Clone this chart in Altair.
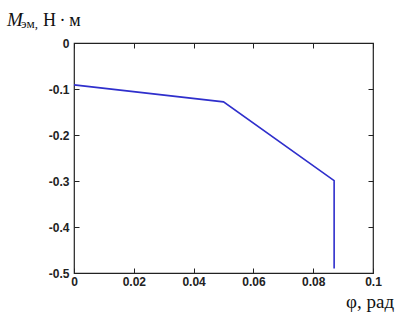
import altair as alt
import pandas as pd

phi = [0.0, 0.05, 0.087, 0.087]
moment = [-0.091, -0.128, -0.299, -0.49]
x_ticks = [0, 0.02, 0.04, 0.06, 0.08, 0.1]
y_ticks = [0, -0.1, -0.2, -0.3, -0.4, -0.5]

df = pd.DataFrame({"phi": phi, "m": moment, "order": list(range(len(phi)))})

W, H = 299, 230
tick_font = "Liberation Sans"
serif = "Liberation Serif"

xscale = alt.Scale(domain=[0, 0.1], nice=False, zero=False)
yscale = alt.Scale(domain=[-0.5, 0], nice=False, zero=False)

def xaxis(orient, labels):
    return alt.Axis(orient=orient, values=x_ticks, labels=labels, title=None, grid=False,
                    domain=False, offset=-5, tickSize=5, tickColor="#222", tickWidth=1,
                    labelPadding=3, labelFont=tick_font, labelFontWeight="bold",
                    labelFontSize=12, labelColor="#222", labelFlush=False,
                    labelExpr="datum.value == 0 ? '0' : format(datum.value, '.2~f')")

def yaxis(orient, labels):
    return alt.Axis(orient=orient, values=y_ticks, labels=labels, title=None, grid=False,
                    domain=False, offset=-5, tickSize=5, tickColor="#222", tickWidth=1,
                    labelPadding=5, labelFont=tick_font, labelFontWeight="bold",
                    labelFontSize=12, labelColor="#222", labelFlush=False,
                    labelExpr="datum.value == 0 ? '0' : replace(format(datum.value, '.1~f'), '\u2212', '-')")

line = alt.Chart(df).mark_line(color="#2f2fcc", strokeWidth=1.6).encode(
    x=alt.X("phi:Q", scale=xscale, axis=xaxis("bottom", True)),
    y=alt.Y("m:Q", scale=yscale, axis=yaxis("left", True)),
    order="order:Q",
)

line2 = alt.Chart(df).mark_line(opacity=0).encode(
    x=alt.X("phi:Q", scale=xscale, axis=xaxis("top", False)),
    y=alt.Y("m:Q", scale=yscale, axis=yaxis("right", False)),
    order="order:Q",
)

lbl = pd.DataFrame({"t": ["M"]})
t_M = alt.Chart(lbl).mark_text(font=serif, fontSize=19, fontStyle="italic", align="left",
                               baseline="alphabetic", color="#111").encode(
    x=alt.value(-67), y=alt.value(-17), text="t:N")
lbl2 = pd.DataFrame({"t": ["эм,"]})
t_sub = alt.Chart(lbl2).mark_text(font=serif, fontSize=13, align="left",
                                  baseline="alphabetic", color="#111").encode(
    x=alt.value(-53), y=alt.value(-15), text="t:N")
lbl3 = pd.DataFrame({"t": ["Н\u2009·\u2009м"]})
t_unit = alt.Chart(lbl3).mark_text(font=serif, fontSize=18, align="left",
                                   baseline="alphabetic", color="#111").encode(
    x=alt.value(-31), y=alt.value(-17), text="t:N")
lbl4 = pd.DataFrame({"t": ["φ, рад"]})
t_x = alt.Chart(lbl4).mark_text(font=serif, fontSize=19, align="left",
                                baseline="alphabetic", color="#111").encode(
    x=alt.value(272), y=alt.value(265), text="t:N")

chart = alt.layer(line, line2, t_M, t_sub, t_unit, t_x).properties(
    width=W, height=H,
    autosize=alt.AutoSizeParams(type="none"),
    padding={"left": 74, "top": 43, "right": 34, "bottom": 51},
    background="white",
).configure_view(stroke="#222", strokeWidth=1.2)

chart.save("out.html", embed_options={"renderer": "svg", "actions": False})
